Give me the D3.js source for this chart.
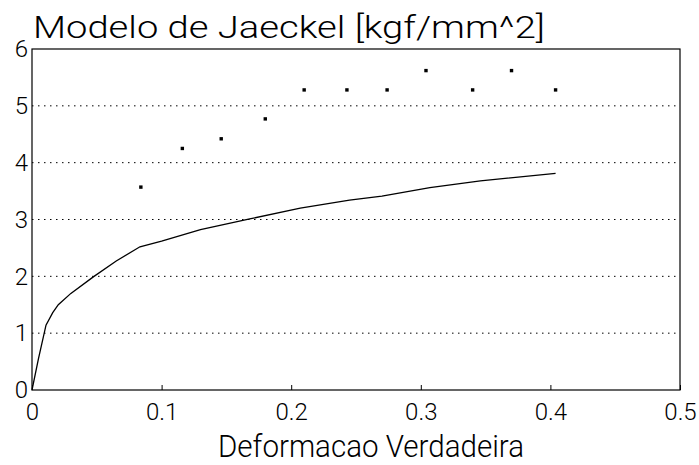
<!DOCTYPE html>
<html>
<head>
<meta charset="utf-8">
<script src="https://cdn.jsdelivr.net/npm/d3@7"></script>
<style>
  body { margin: 0; background: #fff; }
  text { font-family: Roboto, "Liberation Sans", Arial, sans-serif; font-weight: 300; fill: #000; }
</style>
</head>
<body>
<div id="chart"></div>
<script>
// measured points (dots)
var pointX = [0.084, 0.116, 0.146, 0.180, 0.210, 0.243, 0.274, 0.304, 0.340, 0.370, 0.404];
var pointY = [3.57, 4.25, 4.42, 4.77, 5.28, 5.28, 5.28, 5.62, 5.28, 5.62, 5.28];

// Jaeckel model curve
var curveX = [0, 0.005, 0.0108, 0.016, 0.0203, 0.03, 0.0473, 0.065, 0.0833, 0.1, 0.13, 0.168, 0.207, 0.245, 0.27, 0.307, 0.346, 0.404];
var curveY = [0, 0.55, 1.14, 1.36, 1.50, 1.70, 1.99, 2.27, 2.52, 2.62, 2.82, 3.01, 3.20, 3.34, 3.41, 3.56, 3.68, 3.81];

var xTicks = [0, 0.1, 0.2, 0.3, 0.4, 0.5];
var yTicks = [0, 1, 2, 3, 4, 5, 6];

var W = 699, H = 465;
var margin = {top: 49, right: 19, bottom: 75, left: 32},
    width = W - margin.left - margin.right,
    height = H - margin.top - margin.bottom;

var svg = d3.select("#chart")
  .append("svg")
    .attr("width", W)
    .attr("height", H)
  .append("g")
    .attr("transform", "translate(" + margin.left + "," + margin.top + ")");

var x = d3.scaleLinear().domain([0, 0.5]).range([0, width]);
var y = d3.scaleLinear().domain([0, 6]).range([height, 0]);

// dotted grid lines
svg.selectAll(".grid")
  .data(yTicks.filter(function(d) { return d > 0 && d < 6; }))
  .enter().append("line")
    .attr("x1", 0).attr("x2", width)
    .attr("y1", function(d) { return y(d); })
    .attr("y2", function(d) { return y(d); })
    .attr("stroke", "#000")
    .attr("stroke-width", 1)
    .attr("stroke-dasharray", "1.5,4.5");

// box
svg.append("rect")
  .attr("x", 0).attr("y", 0)
  .attr("width", width).attr("height", height)
  .attr("fill", "none")
  .attr("stroke", "#000")
  .attr("stroke-width", 1.2);

// x axis, ticks inward
var xAxis = svg.append("g")
  .attr("transform", "translate(0," + height + ")")
  .call(d3.axisBottom(x).tickValues(xTicks).tickSize(-5).tickPadding(13)
        .tickFormat(function(d) { return d === 0 ? "0" : d3.format(".1f")(d); }));
xAxis.select(".domain").remove();
xAxis.selectAll("text").style("font-size", "24px").attr("dy", "0.71em");

// y axis
var yAxis = svg.append("g")
  .call(d3.axisLeft(y).tickValues(yTicks).tickSize(0).tickPadding(4)
        .tickFormat(d3.format("d")));
yAxis.select(".domain").remove();
yAxis.selectAll("text").style("font-size", "24px");

// curve
var line = d3.line()
  .x(function(d) { return x(d[0]); })
  .y(function(d) { return y(d[1]); });

svg.append("path")
  .datum(d3.zip(curveX, curveY))
  .attr("d", line)
  .attr("fill", "none")
  .attr("stroke", "#000")
  .attr("stroke-width", 1.3);

// dots
svg.selectAll(".pt")
  .data(d3.zip(pointX, pointY))
  .enter().append("rect")
    .attr("x", function(d) { return x(d[0]) - 1.7; })
    .attr("y", function(d) { return y(d[1]) - 1.7; })
    .attr("width", 3.4).attr("height", 3.4)
    .attr("fill", "#000");

// title
svg.append("text")
  .attr("x", 1).attr("y", -11)
  .attr("textLength", 512)
  .attr("lengthAdjust", "spacingAndGlyphs")
  .style("font-size", "32px")
  .text("Modelo de Jaeckel [kgf/mm^2]");

// x label
svg.append("text")
  .attr("x", 186).attr("y", height + 67)
  .attr("textLength", 306)
  .attr("lengthAdjust", "spacingAndGlyphs")
  .style("font-size", "32px")
  .text("Deformacao Verdadeira");
</script>
</body>
</html>
